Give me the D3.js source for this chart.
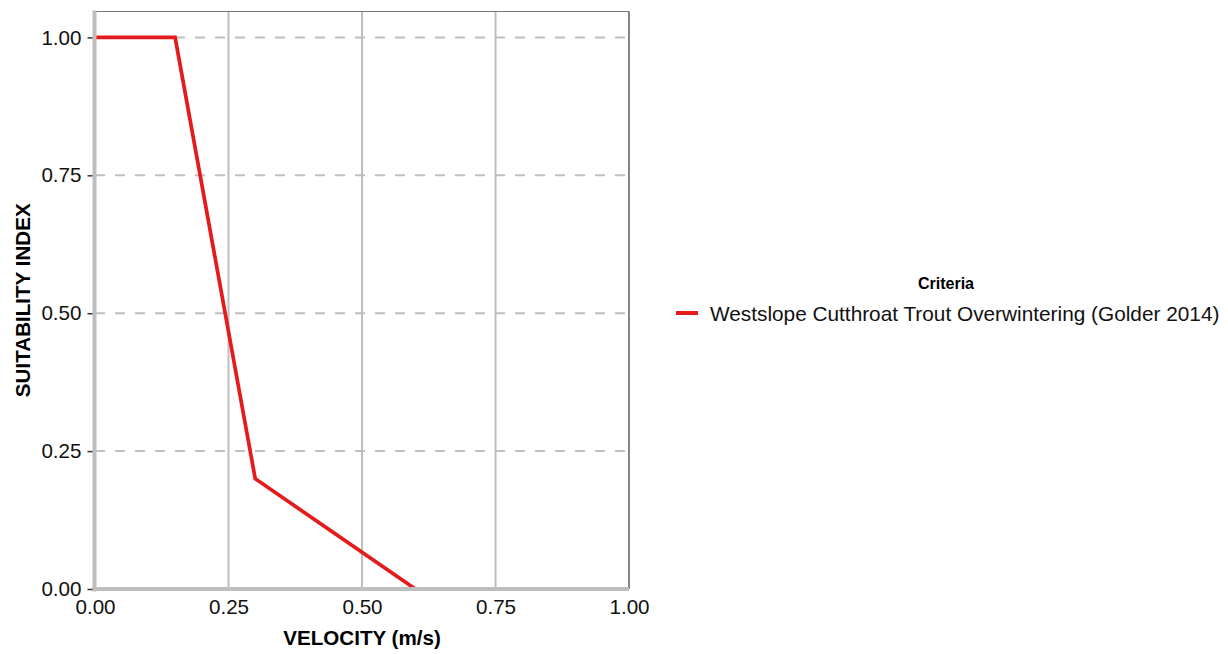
<!DOCTYPE html>
<html><head><meta charset="utf-8">
<script src="https://cdn.jsdelivr.net/npm/d3@7"></script>
<style>body{margin:0;background:#fff;}svg{display:block;font-family:"Liberation Sans",Arial,sans-serif;}</style>
</head><body>
<svg id="c" width="1228" height="654"></svg>
<script>
const velocity = [0, 0.15, 0.3, 0.6];
const suitability = [1, 1, 0.2, 0];
const seriesName = "Westslope Cutthroat Trout Overwintering (Golder 2014)";
const xTicks = [0, 0.25, 0.5, 0.75, 1];
const yTicks = [0, 0.25, 0.5, 0.75, 1];
const xTitle = "VELOCITY (m/s)";
const yTitle = "SUITABILITY INDEX";
const legendTitle = "Criteria";

const svg = d3.select("#c");
const L = 95, R = 629, T = 11.5, B = 589;
const x = d3.scaleLinear().domain([0, 1]).range([L, R]);
const y = d3.scaleLinear().domain([0, 1.047]).range([B, T]);
const fmt = d3.format(".2f");
const FS = "20.6px";

// grid vertical
svg.append("g").selectAll("line").data(xTicks.filter(d => d > 0 && d < 1)).join("line")
  .attr("x1", d => x(d)).attr("x2", d => x(d)).attr("y1", T).attr("y2", B)
  .attr("stroke", "#bebebe").attr("stroke-width", 2);
// grid horizontal dashed
svg.append("g").selectAll("line").data(yTicks.filter(d => d > 0)).join("line")
  .attr("x1", L).attr("x2", R).attr("y1", d => y(d)).attr("y2", d => y(d))
  .attr("stroke", "#bebebe").attr("stroke-width", 2).attr("stroke-dasharray", "10,10");

// border top/right
svg.append("line").attr("x1", L).attr("x2", R).attr("y1", T).attr("y2", T).attr("stroke", "#777").attr("stroke-width", 1.2);
svg.append("line").attr("x1", R).attr("x2", R).attr("y1", T).attr("y2", B).attr("stroke", "#666").attr("stroke-width", 1.6);

// data line
const pts = velocity.map((v, i) => [v, suitability[i]]);
svg.append("path").datum(pts)
  .attr("d", d3.line().x(d => x(d[0])).y(d => y(d[1])))
  .attr("fill", "none").attr("stroke", "#e41a1c").attr("stroke-width", 3.7).attr("stroke-linejoin", "miter");

// axes lines thick gray
svg.append("line").attr("x1", L - 0.5).attr("x2", L - 0.5).attr("y1", T - 1).attr("y2", B + 2.5).attr("stroke", "#bebebe").attr("stroke-width", 4);
svg.append("line").attr("x1", L - 2.5).attr("x2", R).attr("y1", B).attr("y2", B).attr("stroke", "#bebebe").attr("stroke-width", 4);

// y axis
const ya = svg.append("g").attr("transform", `translate(${L - 2.5},0)`)
  .call(d3.axisLeft(y).tickValues(yTicks).tickFormat(fmt).tickSize(5).tickPadding(6));
ya.select(".domain").remove();
ya.selectAll(".tick line").attr("stroke", "#333").attr("stroke-width", 1.5);
ya.selectAll(".tick text").attr("fill", "#111").style("font-size", FS).style("font-family", "Liberation Sans, Arial, sans-serif");

// x axis
const xa = svg.append("g").attr("transform", `translate(0,${B + 2})`)
  .call(d3.axisBottom(x).tickValues(xTicks).tickFormat(fmt).tickSize(0).tickPadding(8));
xa.select(".domain").remove();
xa.selectAll(".tick text").attr("fill", "#111").style("font-size", FS).style("font-family", "Liberation Sans, Arial, sans-serif");

// titles
svg.append("text").attr("x", (L + R) / 2).attr("y", 645).attr("text-anchor", "middle")
  .style("font-size", FS).style("font-weight", "bold").attr("fill", "#000").text(xTitle);
svg.append("text").attr("transform", `translate(30,${(T + B) / 2}) rotate(-90)`).attr("text-anchor", "middle")
  .style("font-size", FS).style("font-weight", "bold").attr("fill", "#000").text(yTitle);

// legend
svg.append("text").attr("x", 946).attr("y", 289).attr("text-anchor", "middle")
  .style("font-size", "16px").style("font-weight", "bold").attr("fill", "#000").text(legendTitle);
svg.append("line").attr("x1", 676).attr("x2", 698).attr("y1", 313).attr("y2", 313)
  .attr("stroke", "#e41a1c").attr("stroke-width", 4);
svg.append("text").attr("x", 710).attr("y", 320.5)
  .style("font-size", "20.8px").attr("fill", "#111").text(seriesName);
</script>
</body></html>
